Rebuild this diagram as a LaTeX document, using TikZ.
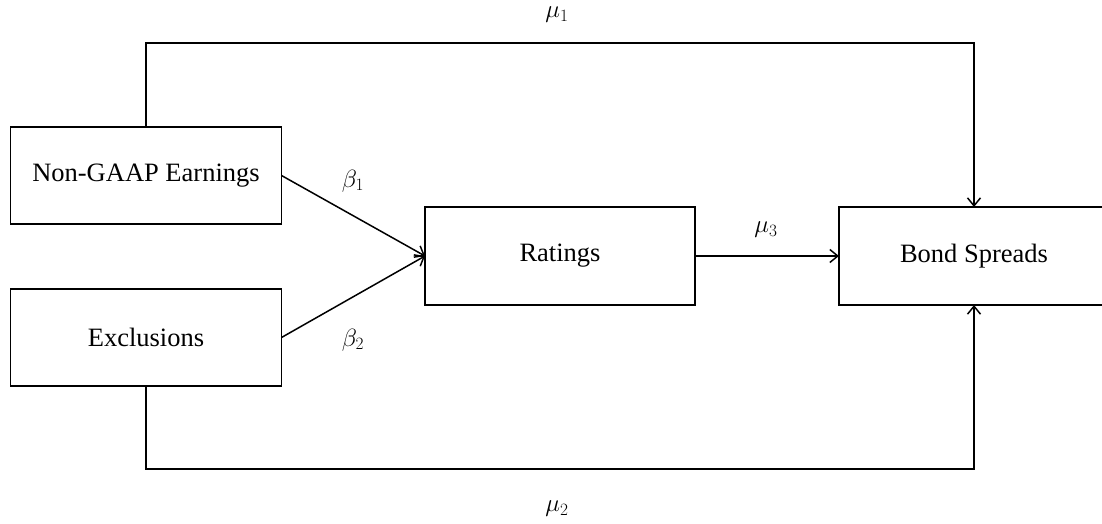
\documentclass[tikz,border=0pt]{standalone}
\usepackage{fontspec}
\setmainfont{Liberation Serif}
\usetikzlibrary{arrows.meta}
\begin{document}
\begin{tikzpicture}[x=1pt,y=-1pt,
  box/.style={draw,line width=1.5pt,minimum width=271pt,minimum height=97pt,inner sep=0pt,outer sep=0pt,font=\fontsize{26.5}{30}\selectfont},
  conn/.style={line width=1.5pt,-{Straight Barb[length=8pt,width=13pt,line width=1.5pt]}},
  lab/.style={inner sep=0pt,font=\fontsize{27}{30}\selectfont}]
\path[use as bounding box] (0,0) rectangle (1102,524);
\clip (0,0) rectangle (1102,524);
\node[box] (ng) at (146,175.5) {Non-GAAP Earnings};
\node[box] (ex) at (146,337.5) {Exclusions};
\node[box,minimum width=270pt,minimum height=98pt] (ra) at (560,256) {Ratings};
\node[box,minimum width=270pt,minimum height=98pt] (bs) at (974,256) {Bond Spreads};
\coordinate (t1) at (560,43);
\coordinate (b1) at (560,469);
\draw[conn] (ng.north) |- (t1) -| (bs.north);
\draw[conn] (ex.south) |- (b1) -| (bs.south);
\draw[conn] (ng.east) -- (ra.west);
\draw[conn] (ex.east) -- (ra.west);
\draw[conn] (ra.east) -- (bs.west);
\node[lab] (m1) at (557,15) {$\mu_1$};
\node[lab] (m2) at (557,509) {$\mu_2$};
\node[lab] (m3) at (766,230) {$\mu_3$};
\node[lab] (b1l) at (353,181) {$\beta_1$};
\node[lab] (b2l) at (353,340) {$\beta_2$};
\end{tikzpicture}
\end{document}
